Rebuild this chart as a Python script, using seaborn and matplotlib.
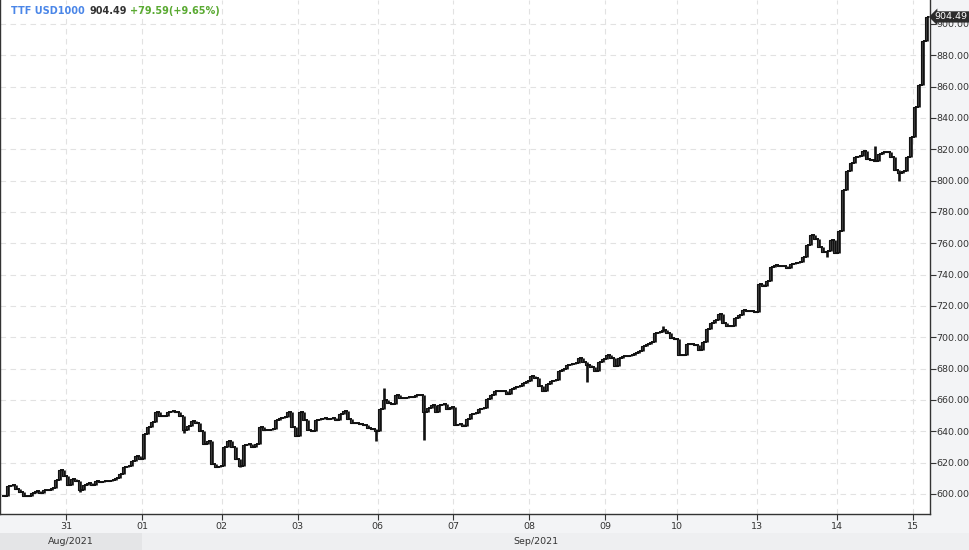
import numpy as np
import pandas as pd
import matplotlib
matplotlib.use("Agg")
import matplotlib.pyplot as plt
import seaborn as sns

# ---------------- data ----------------
day_labels = ["30", "31", "01", "02", "03", "06", "07", "08", "09", "10", "13", "14", "15"]
month_labels = ["Aug/2021", "Sep/2021"]

d30 = [599, 605, 606, 603, 601, 599, 598.5, 600.5, 602, 600.5, 602.5, 602.5, 604, 609, 615.5, 611.5]
d31 = [606, 609.5, 608.5, 602.5, 606, 607, 606, 608, 607.5, 608, 608.5, 609, 610, 613, 617, 618, 621, 624, 622.5]
d01 = [638, 642.5, 646, 652.5, 649.5, 649.5, 652, 653, 652.5, 650, 641, 643.5, 646.5, 645, 640, 632, 634, 619, 617.5, 618]
d02 = [630, 634, 630, 622, 618, 631, 632, 630, 632, 643, 641, 641, 641.5, 647.5, 648.5, 649, 652, 643, 637]
d03 = [652, 647.5, 641, 640, 647, 648, 648.5, 648, 648.5, 647.5, 651, 653, 648, 645, 645.5, 644.5, 644, 642, 641.5, 640]
d06 = [654, 660, 658, 657.5, 663, 661.5, 661.5, 662, 662, 663, 663, 652.5, 655, 657, 652.5, 656.5, 657.5, 654, 655.5]
d07 = [644, 644.5, 643.5, 648, 651, 651.5, 654, 655, 660.5, 663, 665.5, 666, 665.5, 664, 667, 668.5, 669, 671, 672]
d08 = [675, 674, 669, 666, 670, 672, 673, 678.5, 680, 682, 683, 683.5, 686.5, 684, 682, 681, 678.5, 684.5, 686]
d09 = [688.5, 687, 681.5, 686.5, 688, 688, 688.5, 690, 691, 694.5, 695.5, 697, 703, 703.5, 704.5, 703, 699.5, 699]
d10 = [688.5, 689, 696, 696, 695, 692, 697, 705, 709, 711, 715, 709, 707.5, 707, 712, 714, 717.5, 717, 716.5, 716]
d13 = [734, 733, 736, 745, 746, 745.5, 745.5, 744, 747, 747.5, 748, 751, 759, 765, 763, 757.5, 754.5, 755, 762, 754]
d14 = [768, 794, 806, 811, 815, 815.5, 819, 814, 813, 812.5, 817, 818, 818, 815, 806.5, 805, 806, 815, 828]
d15 = [847, 861, 889, 904.49]
days = [d30, d31, d01, d02, d03, d06, d07, d08, d09, d10, d13, d14, d15]

# wick extremes beyond open/close: (day index, bar in day, value)
spike_day = [1, 2, 3, 4, 5, 5, 7, 8, 10, 11, 11, 12]
spike_bar = [3, 10, 4, 19, 1, 11, 14, 14, 17, 15, 9, 2]
spike_val = [601, 639, 617, 634, 667.5, 634.5, 671.7, 707, 751, 799.5, 822, 884]

last_price = 904.49
change = 79.59
change_pct = 9.65

# ---------------- build OHLC-like table ----------------
close = np.concatenate([np.asarray(d, float) for d in days])
n = len(close)
idx = np.arange(n)
day_start = np.cumsum([0] + [len(d) for d in days])[:-1]
opn = np.r_[close[0], close[:-1]]
high = np.maximum(opn, close)
low = np.minimum(opn, close)
for dd, bb, vv in zip(spike_day, spike_bar, spike_val):
    j = day_start[dd] + bb
    high[j] = max(high[j], vv)
    low[j] = min(low[j], vv)
df = pd.DataFrame({"i": idx, "open": opn, "high": high, "low": low, "close": close})

# ---------------- figure ----------------
sns.set_theme(style="white")
plt.rcParams["font.family"] = ["DejaVu Sans"]

W, H = 970, 550
fig = plt.figure(figsize=(W / 100, H / 100), dpi=100, facecolor="#f3f4f6")
ax = fig.add_axes([0, 36 / H, 930 / W, 514 / H])
ax.set_facecolor("white")

bar_c = "#111111"
sns.lineplot(data=df, x="i", y="close", ax=ax, color=bar_c, lw=0.8,
             drawstyle="steps-mid", zorder=2)
ax.vlines(df["i"], df["low"], df["high"], color=bar_c, lw=1.9, zorder=3)
ax.hlines(df["open"], df["i"] - 0.5, df["i"], color=bar_c, lw=1.4, zorder=3)
ax.hlines(df["close"], df["i"], df["i"] + 0.5, color=bar_c, lw=1.4, zorder=3)

ax.set_xlim(-1.03, 231.8)
ax.set_ylim(587.2, 915.3)

# day ticks at day starts
tick_pos = day_start[1:] - 0.5
ax.set_xticks(tick_pos)
ax.set_xticklabels(day_labels[1:])
yt = np.arange(600, 901, 20)
ax.set_yticks(yt)
ax.set_yticklabels([f"{v:.2f}" for v in yt])
ax.yaxis.tick_right()
ax.tick_params(axis="y", which="both", right=True, left=False, direction="out",
               length=4, width=0.8, color="#333333", labelsize=6.8,
               labelcolor="#333333", pad=0.8)
ax.tick_params(axis="x", which="both", bottom=True, direction="out",
               length=4, width=0.8, color="#333333", labelsize=6.8,
               labelcolor="#333333", pad=2)

ax.grid(True, color="#e2e2e2", lw=0.8, ls=(0, (5, 4)))
ax.set_axisbelow(True)
ax.set_xlabel("")
ax.set_ylabel("")
for s in ["left", "bottom", "right"]:
    ax.spines[s].set_visible(True)
    ax.spines[s].set_color("#333333")
    ax.spines[s].set_linewidth(1.0)
ax.spines["top"].set_visible(False)

# month band
band_h = 17 / H
x01 = (4.1 + 3.995 * (day_start[2] - 0.5)) / W
fig.patches.append(plt.Rectangle((0, 0), x01, band_h, transform=fig.transFigure,
                                 fc="#e4e5e7", ec="none", zorder=0))
fig.patches.append(plt.Rectangle((x01, 0), 1 - x01, band_h, transform=fig.transFigure,
                                 fc="#eeeff1", ec="none", zorder=0))
fig.text(x01 / 2, band_h / 2, month_labels[0], ha="center", va="center",
         fontsize=6.8, color="#333333")
fig.text((x01 + 930 / W) / 2, band_h / 2, month_labels[1], ha="center", va="center",
         fontsize=6.8, color="#333333")

# last price tag
ax.annotate(f"{last_price:.2f}", xy=(1.0, last_price), xycoords=("axes fraction", "data"),
            xytext=(3.5, 0), textcoords="offset points", ha="left", va="center",
            fontsize=6.8, color="white", annotation_clip=False,
            bbox=dict(boxstyle="larrow,pad=0.12", fc="#2b2b2b", ec="none"), zorder=10)

# header
fig.canvas.draw()
r = fig.canvas.get_renderer()
hy = 1 - 11 / H
t1 = fig.text(11 / W, hy, "TTF USD1000", fontsize=7, fontweight="bold",
              color="#4a86e8", va="center", ha="left")
bb = t1.get_window_extent(r)
t2 = fig.text((bb.x1 + 5) / W, hy, f"{last_price:.2f}", fontsize=7, fontweight="bold",
              color="#333333", va="center", ha="left")
bb = t2.get_window_extent(r)
fig.text((bb.x1 + 3) / W, hy, f"+{change:.2f}(+{change_pct:.2f}%)", fontsize=7,
         fontweight="bold", color="#5aaa32", va="center", ha="left")

fig.savefig("out.png", dpi=100, facecolor=fig.get_facecolor())
